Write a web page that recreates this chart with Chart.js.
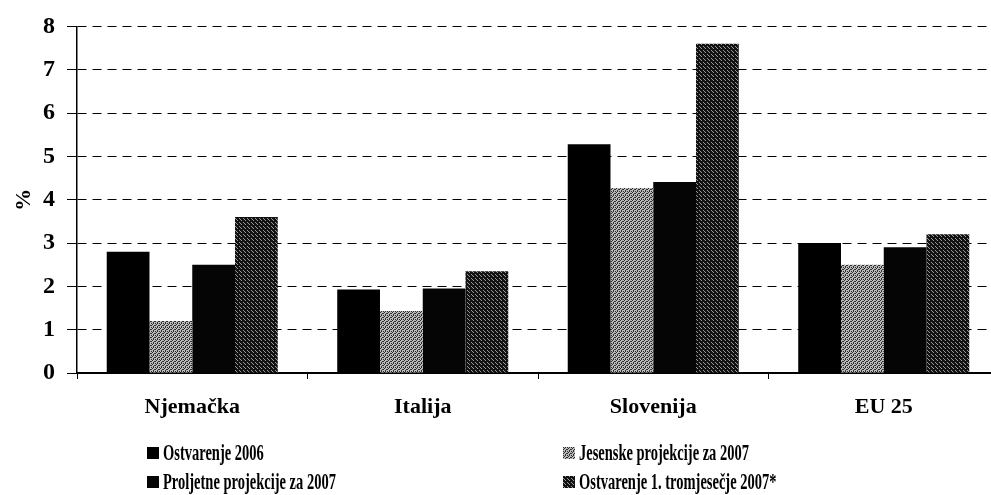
<!DOCTYPE html>
<html>
<head>
<meta charset="utf-8">
<script src="https://cdn.jsdelivr.net/npm/chart.js@4.4.0/dist/chart.umd.min.js"></script>
<style>
    html, body { margin: 0; padding: 0; background: #fff; overflow: hidden; }
    #wrap { width: 1000px; height: 495px; }
</style>
</head>
<body>
<div id="wrap"><canvas id="myChart"></canvas></div>
<script>
const categories = ['Njemačka', 'Italija', 'Slovenija', 'EU 25'];
const seriesNames = ['Ostvarenje 2006', 'Jesenske projekcije za 2007', 'Proljetne projekcije za 2007', 'Ostvarenje 1. tromjesečje 2007*'];
const ostvarenje2006 = [2.8, 1.93, 5.28, 3.0];
const jesenske2007 = [1.2, 1.43, 4.27, 2.5];
const proljetne2007 = [2.5, 1.95, 4.41, 2.9];
const ostvarenjeQ1 = [3.6, 2.35, 7.6, 3.2];
const yTickLabels = ['0', '1', '2', '3', '4', '5', '6', '7', '8'];

const FONT = '"Liberation Serif", "Times New Roman", serif';

// small dithered tiles to mimic the scanned halftone fills
function makePattern(base, dot, dots) {
    const c = document.createElement('canvas');
    c.width = 4;
    c.height = 4;
    const g = c.getContext('2d');
    g.fillStyle = base;
    g.fillRect(0, 0, 4, 4);
    g.fillStyle = dot;
    dots.forEach(p => g.fillRect(p[0], p[1], 1, 1));
    return g.createPattern(c, 'repeat');
}

const lightStipple = makePattern('#bababa', '#2e2e2e', [[0, 0], [2, 1], [1, 2], [3, 3], [3, 1], [1, 3]]);
const darkStipple = makePattern('#121212', '#9a9a9a', [[1, 0], [3, 2], [0, 3]]);

const fills = ['#000000', lightStipple, '#050505', darkStipple];
const values = [ostvarenje2006, jesenske2007, proljetne2007, ostvarenjeQ1];

const bottomLegend = {
    id: 'bottomLegend',
    afterDraw(chart) {
        const ctx = chart.ctx;
        chart.data.datasets.forEach((ds, i) => {
            const x = i % 2 === 0 ? 147 : 563;
            const y = i < 2 ? 453 : 482;
            ctx.save();
            ctx.fillStyle = ds.backgroundColor;
            ctx.fillRect(x, y - 6, 12, 12);
            ctx.fillStyle = '#000';
            ctx.font = 'bold 23px ' + FONT;
            ctx.textBaseline = 'middle';
            ctx.translate(x + 16, y + 1);
            ctx.scale(0.63, 1);
            ctx.fillText(ds.label, 0, 0);
            ctx.restore();
        });
    }
};

const ctx = document.getElementById('myChart').getContext('2d');
const myChart = new Chart(ctx, {
    type: 'bar',
    data: {
        labels: categories,
        datasets: seriesNames.map((name, i) => ({
            label: name,
            data: values[i],
            backgroundColor: fills[i],
            borderWidth: 0,
            barPercentage: 1,
            categoryPercentage: 0.742
        }))
    },
    options: {
        responsive: true,
        maintainAspectRatio: false,
        animation: false,
        layout: {
            padding: {top: 24, right: 1, left: 0, bottom: 0}
        },
        scales: {
            x: {
                offset: true,
                grid: {
                    offset: true,
                    drawOnChartArea: false,
                    drawTicks: true,
                    tickLength: 6,
                    color: '#000'
                },
                border: {color: '#000', width: 2},
                ticks: {
                    color: '#000',
                    padding: 15,
                    font: {family: FONT, size: 22, weight: 'bold'}
                },
                afterFit: function (scale) {
                    scale.height = 122;
                }
            },
            y: {
                min: 0,
                max: 8,
                grid: {
                    color: function (c) {
                        return c.tick && c.tick.value === 0 ? 'rgba(0,0,0,0)' : '#000';
                    },
                    lineWidth: 1,
                    tickLength: 10,
                    tickBorderDash: [],
                    tickColor: '#000'
                },
                border: {color: '#000', width: 1.5, dash: [9, 6]},
                ticks: {
                    stepSize: 1,
                    color: '#000',
                    padding: 12,
                    font: {family: FONT, size: 24, weight: 'bold'},
                    callback: function (val) {
                        return yTickLabels[val];
                    }
                },
                title: {
                    display: true,
                    text: '%',
                    color: '#000',
                    padding: {top: 11, bottom: 0},
                    font: {family: FONT, size: 22, weight: 'bold'}
                },
                afterFit: function (scale) {
                    scale.width = 77;
                }
            }
        },
        plugins: {
            legend: {display: false},
            tooltip: {enabled: false}
        }
    },
    plugins: [bottomLegend]
});
</script>
</body>
</html>
